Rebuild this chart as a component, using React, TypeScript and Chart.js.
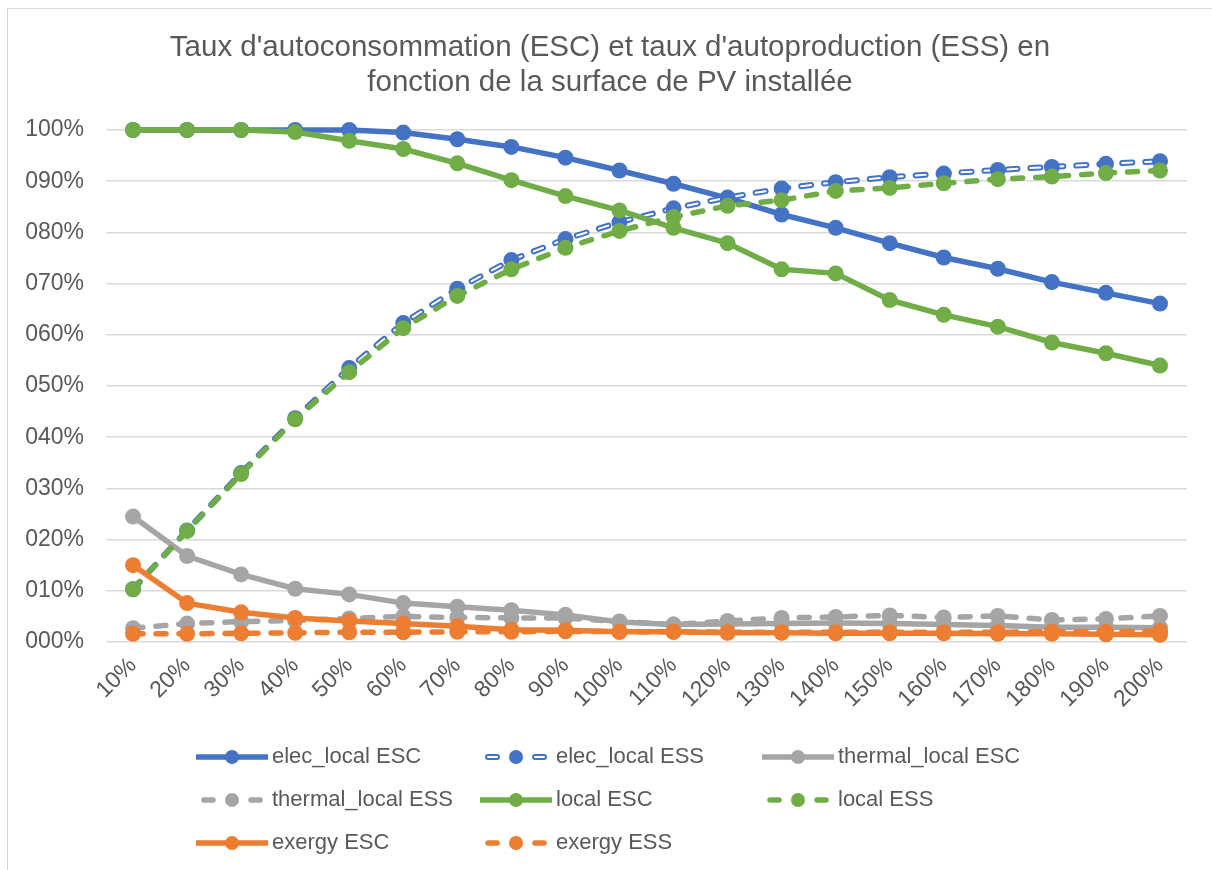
import React, { useEffect, useRef } from 'react';
import { Chart, registerables } from 'chart.js';

Chart.register(...registerables);

// ---------- data ----------
const categories = ['10%', '20%', '30%', '40%', '50%', '60%', '70%', '80%', '90%', '100%', '110%', '120%', '130%', '140%', '150%', '160%', '170%', '180%', '190%', '200%'];

const yTickLabels = ['000%', '010%', '020%', '030%', '040%', '050%', '060%', '070%', '080%', '090%', '100%'];

const elecLocalESC = [1.0, 1.0, 1.0, 1.0, 1.0, 0.995, 0.982, 0.967, 0.946, 0.921, 0.895, 0.867, 0.835, 0.809, 0.779, 0.751, 0.729, 0.703, 0.682, 0.661];
const elecLocalESS = [0.103, 0.218, 0.33, 0.437, 0.535, 0.623, 0.69, 0.746, 0.787, 0.82, 0.847, 0.868, 0.886, 0.898, 0.908, 0.915, 0.922, 0.928, 0.934, 0.939];
const thermalLocalESC = [0.245, 0.168, 0.132, 0.104, 0.093, 0.076, 0.069, 0.062, 0.053, 0.039, 0.034, 0.035, 0.036, 0.037, 0.036, 0.034, 0.032, 0.029, 0.029, 0.028];
const thermalLocalESS = [0.027, 0.036, 0.04, 0.042, 0.046, 0.05, 0.048, 0.047, 0.047, 0.04, 0.034, 0.041, 0.047, 0.049, 0.052, 0.048, 0.051, 0.043, 0.045, 0.051];
const localESC = [1.0, 1.0, 1.0, 0.996, 0.979, 0.963, 0.935, 0.902, 0.871, 0.843, 0.809, 0.779, 0.728, 0.72, 0.668, 0.639, 0.616, 0.585, 0.564, 0.54];
const localESS = [0.103, 0.217, 0.328, 0.435, 0.527, 0.613, 0.676, 0.728, 0.77, 0.803, 0.83, 0.852, 0.863, 0.881, 0.887, 0.896, 0.904, 0.909, 0.916, 0.921];
const exergyESC = [0.15, 0.076, 0.058, 0.047, 0.041, 0.036, 0.031, 0.024, 0.023, 0.02, 0.02, 0.018, 0.018, 0.017, 0.017, 0.017, 0.016, 0.016, 0.015, 0.014];
const exergyESS = [0.016, 0.016, 0.017, 0.018, 0.019, 0.019, 0.02, 0.02, 0.021, 0.02, 0.02, 0.019, 0.019, 0.019, 0.019, 0.019, 0.019, 0.02, 0.02, 0.021];

const titleLines = ["Taux d'autoconsommation (ESC) et taux d'autoproduction (ESS) en", 'fonction de la surface de PV installée'];

// ---------- style ----------
const BLUE = '#4472C4';
const GRAY = '#A5A5A5';
const GREEN = '#70AD47';
const ORANGE = '#ED7D31';
const TEXT = '#595959';
const GRID = '#D9D9D9';
const FONT = '"Liberation Sans", Arial, Helvetica, sans-serif';
const DASH = [10, 13];
const LINE_W = 5.5;
const POINT_R = 8;
const TITLE_SIZE = 29.5;
const TITLE_LH = 1.17;
const TITLE_PAD_TOP = 22;

type SeriesDef = { label: string; data: number[]; color: string; dashed: boolean; double?: boolean };

const series: SeriesDef[] = [
  { label: 'elec_local ESC', data: elecLocalESC, color: BLUE, dashed: false },
  { label: 'elec_local ESS', data: elecLocalESS, color: BLUE, dashed: true, double: true },
  { label: 'thermal_local ESC', data: thermalLocalESC, color: GRAY, dashed: false },
  { label: 'thermal_local ESS', data: thermalLocalESS, color: GRAY, dashed: true },
  { label: 'local ESC', data: localESC, color: GREEN, dashed: false },
  { label: 'local ESS', data: localESS, color: GREEN, dashed: true },
  { label: 'exergy ESC', data: exergyESC, color: ORANGE, dashed: false },
  { label: 'exergy ESS', data: exergyESS, color: ORANGE, dashed: true },
];

const LEGEND_COLS = [264, 548, 830];
const LEGEND_ROWS = [748, 791, 834];

function buildDatasets() {
  const out: any[] = [];
  let ord = 100;
  series.forEach((s) => {
    const base = { data: s.data, clip: false, tension: 0, borderJoinStyle: 'round' };
    if (s.double) {
      out.push({ ...base, label: s.label, borderColor: s.color, backgroundColor: s.color, borderWidth: 6, borderDash: DASH, borderCapStyle: 'round', pointRadius: 0, order: ord-- });
      out.push({ ...base, label: s.label + ' inner', borderColor: '#FFFFFF', backgroundColor: '#FFFFFF', borderWidth: 2, borderDash: DASH, borderCapStyle: 'round', pointRadius: 0, order: ord-- });
      out.push({ ...base, label: s.label + ' markers', showLine: false, borderColor: s.color, backgroundColor: s.color, pointRadius: POINT_R, pointBackgroundColor: s.color, pointBorderWidth: 0, order: ord-- });
    } else {
      out.push({
        ...base,
        label: s.label,
        borderColor: s.color,
        backgroundColor: s.color,
        borderWidth: LINE_W,
        borderDash: s.dashed ? DASH : [],
        borderCapStyle: s.dashed ? 'round' : 'butt',
        pointRadius: POINT_R,
        pointBackgroundColor: s.color,
        pointBorderWidth: 0,
        order: ord--,
      });
    }
  });
  return out;
}

// Title drawn centred on the whole canvas (Chart.js title only reserves the space)
const centredTitle = {
  id: 'centredTitle',
  afterDraw(chart: any) {
    const ctx = chart.ctx as CanvasRenderingContext2D;
    const lh = TITLE_SIZE * TITLE_LH;
    ctx.save();
    ctx.fillStyle = TEXT;
    ctx.font = `${TITLE_SIZE}px ${FONT}`;
    ctx.textAlign = 'center';
    ctx.textBaseline = 'middle';
    titleLines.forEach((line, i) => {
      ctx.fillText(line, chart.width / 2, TITLE_PAD_TOP + lh / 2 + i * lh);
    });
    ctx.restore();
  },
};

const gridLegend = {
  id: 'gridLegend',
  afterDraw(chart: any) {
    const ctx = chart.ctx as CanvasRenderingContext2D;
    series.forEach((s, i) => {
      const tx = LEGEND_COLS[i % 3];
      const ty = LEGEND_ROWS[Math.floor(i / 3)];
      const x0 = tx - 76;
      const x1 = tx - 4;
      const cx = (x0 + x1) / 2;
      ctx.save();
      ctx.strokeStyle = s.color;
      ctx.lineWidth = s.double ? 6 : LINE_W;
      const segs: [number, number][] = s.dashed ? [[x0 + 8, x0 + 17], [x1 - 17, x1 - 8]] : [[x0, x1]];
      ctx.lineCap = s.dashed ? 'round' : 'butt';
      segs.forEach(([a, b]) => {
        ctx.beginPath();
        ctx.moveTo(a, ty);
        ctx.lineTo(b, ty);
        ctx.stroke();
      });
      if (s.double) {
        ctx.strokeStyle = '#FFFFFF';
        ctx.lineWidth = 2;
        segs.forEach(([a, b]) => {
          ctx.beginPath();
          ctx.moveTo(a, ty);
          ctx.lineTo(b, ty);
          ctx.stroke();
        });
      }
      ctx.fillStyle = s.color;
      ctx.beginPath();
      ctx.arc(cx, ty, 7, 0, Math.PI * 2);
      ctx.fill();
      ctx.fillStyle = TEXT;
      ctx.font = `22px ${FONT}`;
      ctx.textAlign = 'left';
      ctx.textBaseline = 'middle';
      ctx.fillText(s.label, tx, ty);
      ctx.restore();
    });
  },
};

function LineChart() {
  const ref = useRef<HTMLCanvasElement | null>(null);
  useEffect(() => {
    if (!ref.current) return;
    const chart = new Chart(ref.current, {
      type: 'line',
      data: { labels: categories, datasets: buildDatasets() },
      options: {
        responsive: false,
        animation: false,
        events: [],
        layout: { padding: { left: 0, right: 25, top: 0, bottom: 148 } },
        plugins: {
          legend: { display: false },
          tooltip: { enabled: false },
          title: {
            display: true,
            text: titleLines,
            color: 'rgba(0,0,0,0)',
            font: { family: FONT, size: TITLE_SIZE, weight: 'normal', lineHeight: TITLE_LH },
            padding: { top: TITLE_PAD_TOP, bottom: 30 },
          },
        },
        scales: {
          x: {
            type: 'category',
            offset: true,
            grid: { display: false, drawTicks: false },
            border: { display: false },
            ticks: {
              autoSkip: false,
              minRotation: 45,
              maxRotation: 45,
              color: TEXT,
              font: { family: FONT, size: 23 },
              padding: 10,
            },
            afterFit: (scale: any) => {
              scale.height = 80;
            },
          },
          y: {
            min: 0,
            max: 1,
            grid: { color: GRID, lineWidth: 1.5, drawTicks: false },
            border: { display: false },
            ticks: {
              stepSize: 0.1,
              color: TEXT,
              font: { family: FONT, size: 23 },
              padding: 22,
              callback: (_v: any, i: number) => yTickLabels[i],
            },
            afterFit: (scale: any) => {
              scale.width = 98;
            },
          },
        },
      } as any,
      plugins: [centredTitle, gridLegend],
    });
    return () => chart.destroy();
  }, []);
  return <canvas ref={ref} width={1204} height={861} style={{ display: 'block', width: 1204, height: 861 }} />;
}

export default function App() {
  return (
    <div
      style={{
        position: 'fixed',
        left: 7,
        top: 8,
        width: 1215,
        height: 870,
        borderLeft: `1px solid ${GRID}`,
        borderTop: `1px solid ${GRID}`,
        background: '#FFFFFF',
      }}
    >
      <LineChart />
    </div>
  );
}
